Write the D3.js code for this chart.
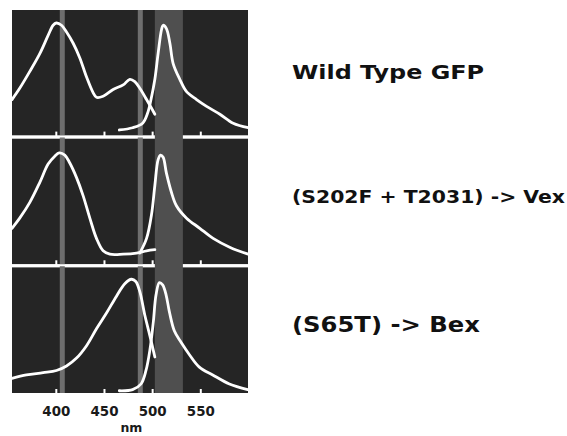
<!DOCTYPE html>
<html>
<head>
<meta charset="utf-8">
<script src="https://cdn.jsdelivr.net/npm/d3@7"></script>
<style>
  html, body { margin: 0; padding: 0; background: #ffffff; }
  svg { display: block; }
  text { font-family: "DejaVu Sans", Verdana, sans-serif; font-weight: bold; }
</style>
</head>
<body>
<svg id="chart" width="567" height="436"></svg>
<script>
// ---------------- data ----------------
const panels = ["Wild Type GFP", "(S202F + T2031) -> Vex", "(S65T) -> Bex"];
const wavelengthTicks = [400, 450, 500, 550];
const axisLabel = "nm";

// filter windows (nm)
const thinBands = [[403.6, 408.8], [484.6, 489.8]];
const wideBand = [502.3, 531.4];

// [wavelength nm, relative intensity]
const wtExcitation = [[354,0.32],[362,0.42],[372.5,0.57],[383,0.73],[391.5,0.89],[396.7,0.98],[400,1.0],[405.4,0.98],[410.6,0.92],[417.5,0.82],[424.4,0.69],[431.4,0.52],[438.3,0.38],[441.7,0.34],[448.6,0.35],[459,0.41],[469.4,0.45],[476.3,0.50],[481.5,0.48],[486.7,0.42],[493.7,0.32],[502.3,0.19]];
const wtEmission = [[465.4,0.05],[479.2,0.07],[489.6,0.11],[494.8,0.20],[498.3,0.32],[502.3,0.50],[505.7,0.73],[509.2,0.94],[510.9,0.98],[514.3,0.95],[517.9,0.82],[521.3,0.64],[528.2,0.50],[535.2,0.39],[545.6,0.32],[556,0.26],[569.8,0.19],[583.6,0.11],[599.2,0.07]];

const vexExcitation = [[354,0.32],[362,0.41],[372.5,0.55],[383,0.73],[391.5,0.89],[398.4,0.96],[403,0.99],[408.8,0.97],[414,0.90],[421,0.77],[427.8,0.61],[434.8,0.41],[441.7,0.23],[448.6,0.12],[455.6,0.09],[469.4,0.09],[483.2,0.10],[493.7,0.12],[502.3,0.13]];
const vexEmission = [[486.7,0.10],[493.7,0.23],[498.8,0.44],[502.3,0.70],[505.7,0.93],[508.2,0.97],[510.9,0.95],[514.3,0.81],[519.5,0.64],[524.7,0.52],[535.2,0.41],[549,0.32],[562.8,0.23],[580.5,0.15],[599.2,0.09]];

const bexExcitation = [[354,0.13],[369,0.16],[386.3,0.18],[400.2,0.20],[410.6,0.24],[421,0.31],[431.4,0.42],[441.7,0.57],[452.1,0.71],[462.5,0.86],[471.1,0.97],[478,1.01],[482.5,0.99],[486.7,0.90],[491.9,0.69],[497.1,0.51],[502.3,0.32]];
const bexEmission = [[465.4,0.02],[479.2,0.03],[487.9,0.08],[493.1,0.20],[497.3,0.39],[500.7,0.63],[503.5,0.87],[507,0.98],[510.4,0.96],[514,0.87],[517.4,0.72],[522.6,0.55],[529.5,0.45],[538.2,0.34],[548.5,0.23],[562.4,0.16],[579.7,0.08],[598.7,0.03]];

const spectra = [
  [wtExcitation, wtEmission],
  [vexExcitation, vexEmission],
  [bexExcitation, bexEmission]
];

// ---------------- layout ----------------
const svg = d3.select("#chart");
const x = d3.scaleLinear().domain([354, 599]).range([12, 248]);
const py = d3.scaleBand().domain(panels).range([10, 393]).paddingInner(0.024);

const bg = "#252525", thinCol = "#6e6e6e", wideCol = "#4f4f4f";

panels.forEach((name, i) => {
  const top = py(name), h = py.bandwidth(), bottom = top + h;
  const g = svg.append("g");
  g.append("rect").attr("x", x.range()[0]).attr("y", top)
    .attr("width", x.range()[1] - x.range()[0]).attr("height", h).attr("fill", bg);
  g.selectAll("rect.thin").data(thinBands).join("rect").attr("class", "thin")
    .attr("x", d => x(d[0])).attr("width", d => x(d[1]) - x(d[0]))
    .attr("y", top).attr("height", h + (i < 2 ? 3 : 0)).attr("fill", thinCol);

  // axis line + ticks
  g.append("line").attr("x1", x.range()[0]).attr("x2", x.range()[1])
    .attr("y1", bottom + 1).attr("y2", bottom + 1)
    .attr("stroke", "#ffffff").attr("stroke-width", 2);
  g.selectAll("line.tick").data(wavelengthTicks).join("line").attr("class", "tick")
    .attr("x1", d => x(d)).attr("x2", d => x(d))
    .attr("y1", bottom + 1).attr("y2", bottom - 4)
    .attr("stroke", "#ffffff").attr("stroke-width", 2);
});

// wide band spanning all panels, over axis lines
svg.append("rect").attr("x", x(wideBand[0])).attr("width", x(wideBand[1]) - x(wideBand[0]))
  .attr("y", py.range()[0]).attr("height", py.range()[1] - py.range()[0])
  .attr("fill", wideCol);

// curves
panels.forEach((name, i) => {
  const top = py(name), bottom = top + py.bandwidth();
  const y = d3.scaleLinear().domain([0, 1]).range([bottom, top + 13]);
  const line = d3.line().x(d => x(d[0])).y(d => y(d[1])).curve(d3.curveCatmullRom.alpha(0.5));
  svg.append("g").selectAll("path").data(spectra[i]).join("path")
    .attr("d", line).attr("fill", "none").attr("stroke", "#ffffff")
    .attr("stroke-width", 2.8).attr("stroke-linecap", "round").attr("stroke-linejoin", "round");
});

// tick labels
svg.append("g").selectAll("text").data(wavelengthTicks).join("text")
  .attr("x", d => x(d)).attr("y", 416).attr("text-anchor", "middle")
  .attr("font-size", 13.5).attr("fill", "#1a1a1a")
  .attr("textLength", 28).attr("lengthAdjust", "spacingAndGlyphs").text(d => d);
svg.append("text").attr("x", x(478)).attr("y", 432).attr("text-anchor", "middle")
  .attr("font-size", 12.5).attr("fill", "#1a1a1a").text(axisLabel);

// panel labels (Verdana-like wide bold)
const labelSizes = [20, 17.5, 20.5];
const labelWidths = [192, 273, 188];
const labelOffsets = [6, 1, 2];
svg.append("g").selectAll("text").data(panels).join("text")
  .attr("x", 292)
  .attr("y", (d, i) => py(d) + py.bandwidth() / 2 + labelOffsets[i])
  .attr("font-size", (d, i) => labelSizes[i])
  .attr("textLength", (d, i) => labelWidths[i])
  .attr("lengthAdjust", "spacingAndGlyphs")
  .attr("fill", "#111").text(d => d);
</script>
</body>
</html>
